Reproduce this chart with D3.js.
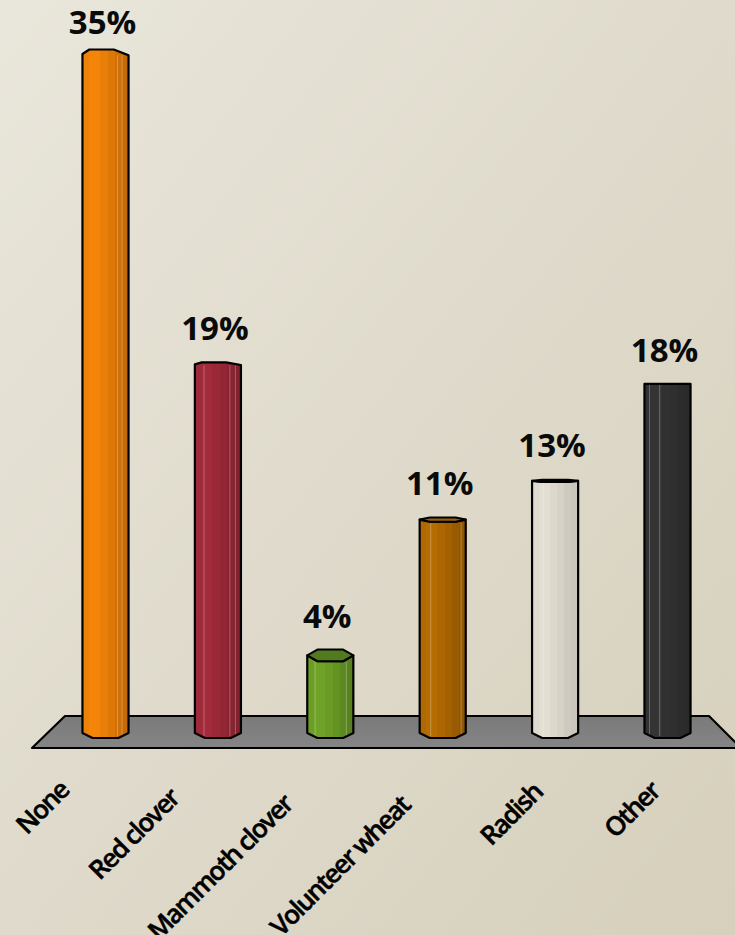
<!DOCTYPE html>
<html><head><meta charset="utf-8">
<script src="https://cdn.jsdelivr.net/npm/d3@7"></script>
<style>html,body{margin:0;padding:0;background:#ddd8c8}svg{display:block}</style>
</head><body><svg id="c" width="735" height="935"></svg>
<script>
const categories = ["None","Red clover","Mammoth clover","Volunteer wheat","Radish","Other"];
const values = [35,19,4,11,13,18];
const barColors = ["#f58508","#a32a3a","#6fa327","#b56c02","#e3ded2","#343434"];
const topColors = ["#b05f05","#742030","#527a1e","#99600a","#000000","#111111"];
const labelShift = [-43,-45,-44,-39,-19,-14];
const labelDrop = [22,30,36,37,24,23];
const highlightLines = [[.76,.86],[.2,.76,.88],[.17,.85],[.24,.9],[.24],[.11,.33]];

const W=735,H=935, svg=d3.select("#c"), defs=svg.append("defs");
const bg=defs.append("linearGradient").attr("id","bg").attr("x1",0).attr("y1",0).attr("x2",1).attr("y2",1);
bg.append("stop").attr("offset",0).attr("stop-color","#e9e6db");
bg.append("stop").attr("offset",.5).attr("stop-color","#dfdacb");
bg.append("stop").attr("offset",1).attr("stop-color","#d6d0bc");
svg.append("rect").attr("width",W).attr("height",H).attr("fill","url(#bg)");

const x=d3.scaleBand().domain(categories).range([49.3,723.7]).paddingInner(.59).paddingOuter(.295);
const y=d3.scaleLinear().domain([0,35]).range([733,54]);
const line=d3.line();

const fl=defs.append("linearGradient").attr("id","floor").attr("x1",0).attr("y1",0).attr("x2",0).attr("y2",1);
fl.append("stop").attr("offset",0).attr("stop-color","#7a7a7a");
fl.append("stop").attr("offset",1).attr("stop-color","#858585");
svg.append("path").attr("d",line([[65,716],[709,716],[741,748],[32,748]])+"Z")
  .attr("fill","url(#floor)").attr("stroke","#000").attr("stroke-width",2.2).attr("stroke-linejoin","round");

const facets=[[0,.97],[.14,1],[.38,.95],[.55,.9],[.7,.84],[.85,.8]];
barColors.forEach((c,i)=>{
  const g=defs.append("linearGradient").attr("id","b"+i);
  facets.forEach((f,j)=>{
    const col=d3.rgb(c); const k=i===4?.45+.55*f[1]:f[1];
    const s=d3.rgb(col.r*k,col.g*k,col.b*k);
    g.append("stop").attr("offset",f[0]).attr("stop-color",s);
    g.append("stop").attr("offset",j<facets.length-1?facets[j+1][0]:1).attr("stop-color",s);
  });
});

const fr=[0,.22,.78,1];
categories.forEach((cat,i)=>{
  const v=values[i], x0=x(cat), w=x.bandwidth(), yc=y(v), yb=y(0);
  let tilt=Math.max(-4.5,(yc-440)*0.027);
  if(tilt<0&&tilt>-1.8) tilt=0;
  const px=t=>x0+w*t;
  const bottom=[[px(1),yb],[px(.78),yb+5],[px(.22),yb+5],[px(0),yb]];
  const upTop = tilt<0
    ? [[px(0),yc],[px(.15),yc+tilt],[px(.68),yc+tilt],[px(1),yc+tilt*-0.3]]
    : [[px(0),yc],[px(.22),yc+tilt],[px(.78),yc+tilt],[px(1),yc]];
  const body=upTop.concat(bottom);
  const g=svg.append("g");
  g.append("path").attr("d",line(body)+"Z").attr("fill",`url(#b${i})`);
  highlightLines[i].forEach(t=>{
    g.append("line").attr("x1",px(t)).attr("x2",px(t)).attr("y1",yc+Math.max(tilt,0)+1).attr("y2",yb+3)
      .attr("stroke","#fff").attr("stroke-opacity",.28).attr("stroke-width",1);
  });
  g.append("path").attr("d",line(body)+"Z").attr("fill","none").attr("stroke","#000").attr("stroke-width",2.2).attr("stroke-linejoin","round");
  if(tilt>0){
    const face=fr.map(t=>[px(t),yc-tilt*(t===0||t===1?0:1)]).concat([[px(.78),yc+tilt],[px(.22),yc+tilt]]);
    g.append("path").attr("d",line(face)+"Z").attr("fill",topColors[i]).attr("stroke","#000").attr("stroke-width",2).attr("stroke-linejoin","round");
  }
  svg.append("text").attr("x",x0+w/2-3).attr("y",yc-Math.abs(tilt)-(i==0?16:22)-(i==4?1:0))
    .attr("text-anchor","middle").attr("font-family","'Open Sans'").attr("font-weight",700)
    .attr("font-size",33).attr("fill","#0a0a0a").text(d3.format(".0f")(v)+"%");
});

const axis=svg.append("g").attr("transform","translate(0,770)").call(d3.axisBottom(x).tickSize(0).tickPadding(0));
axis.select(".domain").remove();
axis.selectAll(".tick text").each(function(d,i){
  d3.select(this).attr("text-anchor","end")
    .attr("transform",`translate(${labelShift[i]+8},${labelDrop[i]}) rotate(-45)`)
    .attr("font-family","'Open Sans'").attr("font-size",26).attr("font-weight",600)
    .attr("letter-spacing",-1.6).attr("fill","#000").attr("stroke","#000").attr("stroke-width",.5).attr("dy",0);
});
</script></body></html>
